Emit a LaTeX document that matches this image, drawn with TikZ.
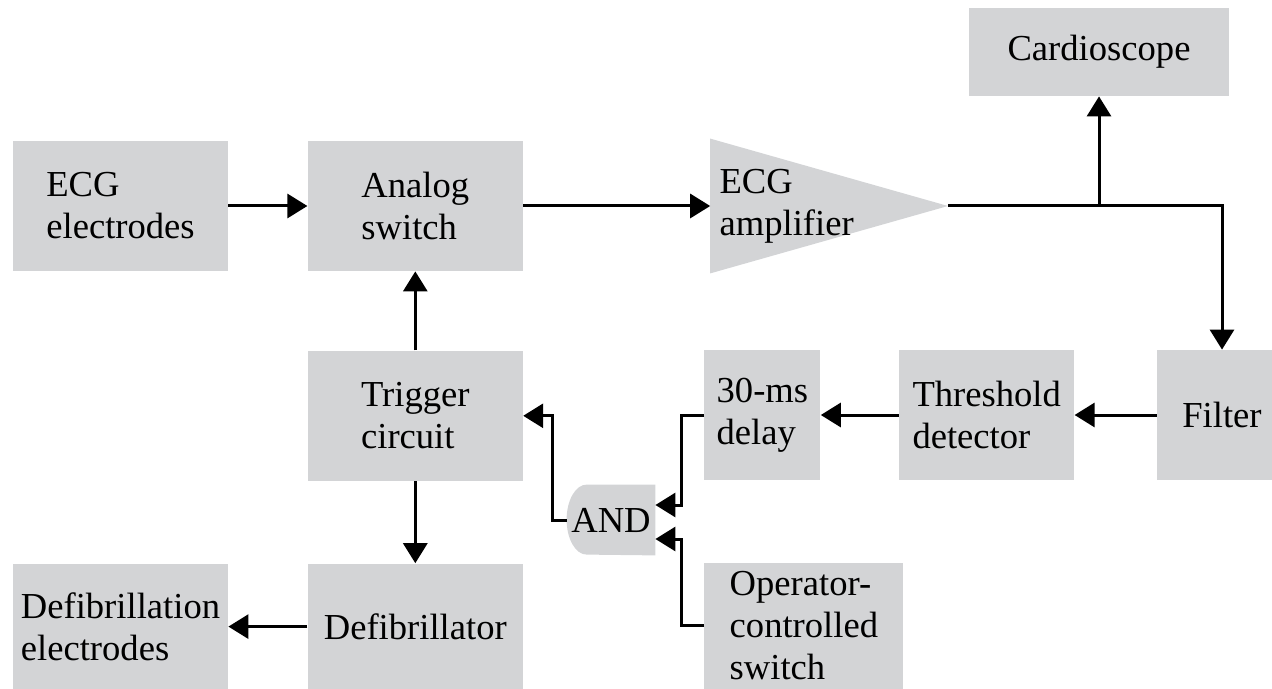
\documentclass[tikz,border=0pt]{standalone}
\usepackage{fontspec}
\setmainfont{LiberationSerif-Regular.ttf}
\usetikzlibrary{arrows.meta,positioning,backgrounds}
\definecolor{boxgray}{RGB}{211,212,214}
\tikzset{
  flowbox/.style={fill=boxgray, align=left, inner sep=0pt,
    font=\fontsize{18.3}{21}\selectfont},
  flowarrow/.style={-{Triangle[length=10pt,width=12pt]}, line width=1.5pt},
  flowline/.style={line width=1.5pt}
}
\begin{document}
\begin{tikzpicture}[x=1pt, y=1pt]
  \useasboundingbox (0,0) rectangle (636,-344.5);
  \node[flowbox, minimum width=107.5pt, minimum height=65pt] (ecg)
    at (60.25,-103) {ECG\\electrodes};
  \node[flowbox, minimum width=107.5pt, minimum height=65pt,
    right=39.5pt of ecg] (sw) {Analog\\switch};
  \node[flowbox, fill=none, minimum width=118.5pt, minimum height=67pt,
    text width=109.5pt, inner xsep=4.5pt, right=93.5pt of sw] (amp)
    {ECG\\amplifier};
  \node[flowbox, minimum width=130pt, minimum height=44pt] (cardio)
    at (549.5,-26) {Cardioscope};
  \node[flowbox, minimum width=65pt, minimum height=65pt] (filter)
    at (611,-207.5) {Filter};
  \node[flowbox, minimum width=87.5pt, minimum height=65pt,
    left=41pt of filter] (thresh) {Threshold\\detector};
  \node[flowbox, minimum width=58pt, minimum height=65pt,
    left=39pt of thresh] (delay) {30-ms\\delay};
  \node[flowbox, minimum width=107.5pt, minimum height=65pt,
    below=39.5pt of sw] (trig) {Trigger\\circuit};
  \node[flowbox, minimum width=107.5pt, minimum height=63pt,
    below=41pt of trig] (defib) {Defibrillator};
  \node[flowbox, minimum width=107.5pt, minimum height=63pt,
    left=39.5pt of defib] (dfe) {Defibrillation\\electrodes};
  \node[flowbox, minimum width=99.5pt, minimum height=63pt,
    below right=41pt and 0pt of delay.south west] (op)
    {Operator-\\controlled\\switch};
  \node[flowbox, fill=none, minimum width=44pt, minimum height=35pt]
    (gate) at (305.5,-260) {AND};
  % amplifier triangle and AND gate outline
  \begin{scope}[on background layer]
    \fill[boxgray] (amp.north west) -- (amp.east) -- (amp.south west) -- cycle;
    \fill[boxgray] (gate.north east) -- ([xshift=10pt]gate.north west)
      arc[start angle=90, end angle=270, x radius=10pt, y radius=17.5pt]
      -- (gate.south east) -- cycle;
  \end{scope}
  \coordinate (split) at (cardio.south |- amp.east);
  \draw[flowarrow] (ecg) -- (sw);
  \draw[flowarrow] (sw) -- (amp);
  \draw[flowarrow] (amp.east) -| (filter);
  \draw[flowarrow] (split) -- (cardio);
  \draw[flowarrow] (filter) -- (thresh);
  \draw[flowarrow] (thresh) -- (delay);
  \draw[flowarrow] (delay.west) -- ++(-11.5,0) |- ([yshift=7.5pt]gate.east);
  \draw[flowarrow] (op.west) -- ++(-11.5,0) |- ([yshift=-9.5pt]gate.east);
  \draw[flowarrow] (gate.west) -- ++(-7,0) |- (trig.east);
  \draw[flowarrow] (trig) -- (sw);
  \draw[flowarrow] (trig) -- (defib);
  \draw[flowarrow] (defib) -- (dfe);
\end{tikzpicture}
\end{document}
